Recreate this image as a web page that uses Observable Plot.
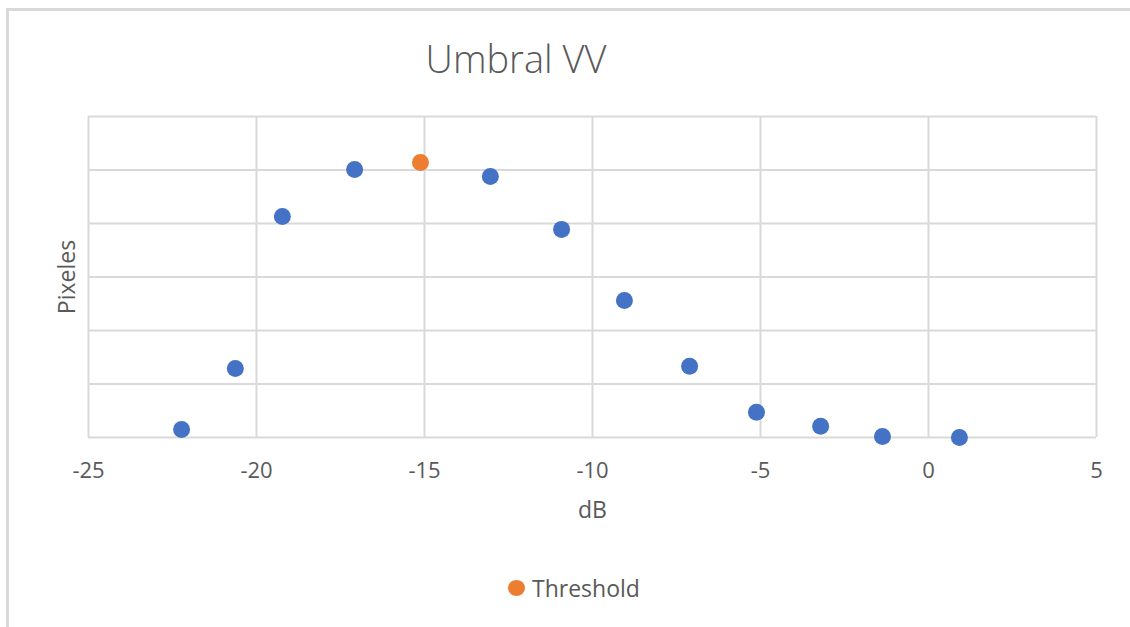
<!DOCTYPE html>
<html>
<head>
<meta charset="utf-8">
<script src="https://cdn.jsdelivr.net/npm/d3@7"></script>
<script src="https://cdn.jsdelivr.net/npm/@observablehq/plot@0.6"></script>
<style>
  html, body { margin: 0; padding: 0; background: #fff; }
  #wrap { position: relative; width: 1130px; height: 627px; overflow: hidden; font-family: "Open Sans", "Noto Sans", sans-serif; color: #595959; }
  #borderTop { position: absolute; left: 6px; top: 8px; width: 1124px; height: 3px; background: #d9d9d9; }
  #borderLeft { position: absolute; left: 6px; top: 8px; width: 3px; height: 619px; background: #d9d9d9; }
  #title { position: absolute; left: 0; width: 1032px; top: 32px; text-align: center; font-size: 38px; font-weight: 300; color: #595959; }
  #chart { position: absolute; left: 0; top: 0; }
  #legend { position: absolute; left: 508px; top: 572px; font-size: 23px; display: flex; align-items: center; color: #595959; }
  #legend .dot { width: 17px; height: 16px; border-radius: 50%; background: #ED7D31; margin-right: 7px; }
</style>
</head>
<body>
<div id="wrap">
  <div id="borderTop"></div>
  <div id="borderLeft"></div>
  <div id="chart"></div>
  <div id="title">Umbral VV</div>
  <div id="legend"><span class="dot"></span><span>Threshold</span></div>
</div>
<script>
const dbValues = [-22.23, -20.63, -19.23, -17.08, -13.04, -10.92, -9.05, -7.11, -5.12, -3.21, -1.37, 0.92];
const pixelValues = [15, 129, 413, 501, 488, 389, 256, 133, 47, 21, 2, 0];
const thresholdDb = [-15.12];
const thresholdPixels = [514];
const xTicks = [-25, -20, -15, -10, -5, 0, 5];
const yTicks = [0, 100, 200, 300, 400, 500, 600];

const series = dbValues.map((x, i) => ({x, y: pixelValues[i]}));
const threshold = thresholdDb.map((x, i) => ({x, y: thresholdPixels[i]}));

const plot = Plot.plot({
  width: 1130,
  height: 627,
  marginLeft: 88,
  marginRight: 34,
  marginTop: 116,
  marginBottom: 190,
  style: { fontFamily: "Open Sans, Noto Sans, sans-serif", fontSize: "22px", color: "#595959", background: "transparent" },
  x: { domain: [-25, 5], ticks: xTicks, label: null },
  y: { domain: [0, 600], ticks: yTicks, label: null },
  marks: [
    Plot.gridX(xTicks, { stroke: "#d9d9d9", strokeOpacity: 1, strokeWidth: 2 }),
    Plot.gridY(yTicks, { stroke: "#d9d9d9", strokeOpacity: 1, strokeWidth: 2 }),
    Plot.axisX({ ticks: xTicks, tickSize: 0, tickPadding: 25, tickFormat: d => d < 0 ? "-" + Math.abs(d) : String(d), fill: "#595959", fontSize: 22 }),
    Plot.axisY({ ticks: [], label: null, tickSize: 0 }),
    Plot.dot(series, { x: "x", y: "y", r: 8.5, fill: "#4472C4", stroke: "none" }),
    Plot.dot(threshold, { x: "x", y: "y", r: 8.5, fill: "#ED7D31", stroke: "none" }),
    Plot.text(["dB"], { frameAnchor: "bottom", dy: 80, text: d => d, fontSize: 23, fill: "#595959" }),
    Plot.text(["Pixeles"], { frameAnchor: "left", textAnchor: "middle", dx: -21, rotate: -90, text: d => d, fontSize: 23, fill: "#595959" })
  ]
});
document.getElementById("chart").appendChild(plot);
</script>
</body>
</html>
